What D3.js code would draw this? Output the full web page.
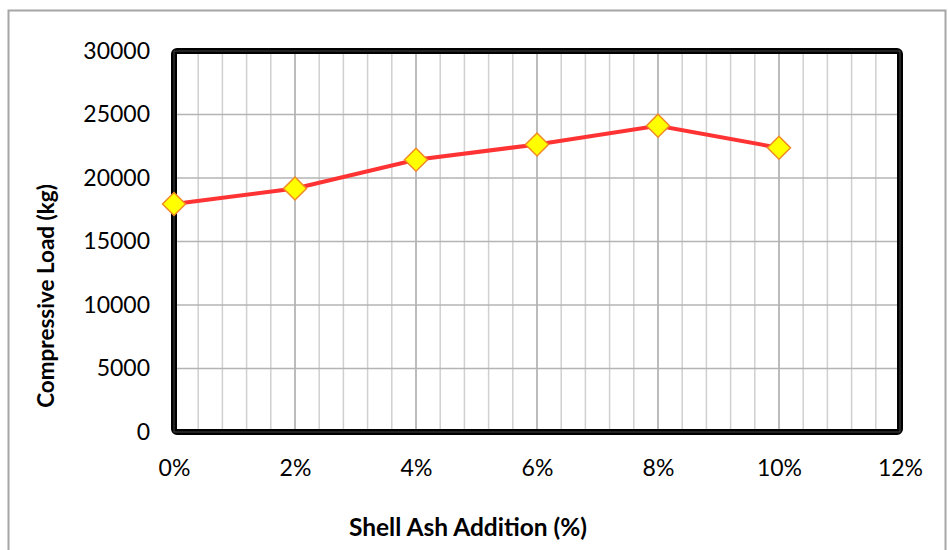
<!DOCTYPE html>
<html><head><meta charset="utf-8">
<script src="https://cdn.jsdelivr.net/npm/d3@7"></script>
<style>body{margin:0;background:#fff}svg{display:block}</style>
</head><body><svg id="c" width="948" height="550"></svg>
<script>
const categories = [0, 2, 4, 6, 8, 10];
const loadValues = [17950, 19170, 21440, 22640, 24120, 22380];
const xTicks = [0, 2, 4, 6, 8, 10, 12];
const yTicks = [0, 5000, 10000, 15000, 20000, 25000, 30000];
const xTitle = "Shell Ash Addition (%)";
const yTitle = "Compressive Load (kg)";

const svg = d3.select("#c");
const L = 174, R = 900, T = 51, B = 432;
const x = d3.scaleLinear().domain([0, 12]).range([L, R]);
const y = d3.scaleLinear().domain([0, 30000]).range([B, T]);
const font = "Lato, 'Open Sans', sans-serif";

// outer chart border
svg.append("rect").attr("x", 8.5).attr("y", 10.5).attr("width", 937).attr("height", 560)
  .attr("fill", "none").attr("stroke", "#a6a6a6").attr("stroke-width", 2);

// minor vertical gridlines
const minor = d3.range(0, 12.0001, 0.4).filter(v => Math.abs(v / 2 - Math.round(v / 2)) > 1e-6);
svg.append("g").selectAll("line").data(minor).join("line")
  .attr("x1", d => x(d)).attr("x2", d => x(d)).attr("y1", T).attr("y2", B)
  .attr("stroke", "#d0d0d0").attr("stroke-width", 1.5);
// major vertical gridlines
svg.append("g").selectAll("line").data(xTicks).join("line")
  .attr("x1", d => x(d)).attr("x2", d => x(d)).attr("y1", T).attr("y2", B)
  .attr("stroke", "#a6a6a6").attr("stroke-width", 1.5);
// horizontal gridlines
svg.append("g").selectAll("line").data(yTicks).join("line")
  .attr("x1", L).attr("x2", R).attr("y1", d => y(d)).attr("y2", d => y(d))
  .attr("stroke", "#b4b4b4").attr("stroke-width", 1.5);

// frame
svg.append("rect").attr("x", L).attr("y", T).attr("width", R - L).attr("height", B - T)
  .attr("rx", 3).attr("fill", "none").attr("stroke", "#000").attr("stroke-width", 6);
svg.append("rect").attr("x", L).attr("y", T).attr("width", R - L).attr("height", B - T)
  .attr("fill", "none").attr("stroke", "#555").attr("stroke-width", 0.8);

// axes labels via d3 axes
const yAxis = svg.append("g").attr("transform", `translate(${L},0)`)
  .call(d3.axisLeft(y).tickValues(yTicks).tickSize(0).tickPadding(24).tickFormat(d3.format("d")));
yAxis.select(".domain").remove();
yAxis.selectAll("text").attr("font-family", font).attr("font-size", 23).attr("fill", "#000");

const xAxis = svg.append("g").attr("transform", `translate(0,${B})`)
  .call(d3.axisBottom(x).tickValues(xTicks).tickSize(0).tickPadding(28).tickFormat(d => d + "%"));
xAxis.select(".domain").remove();
xAxis.selectAll("text").attr("font-family", font).attr("font-size", 23).attr("fill", "#000");

// titles
svg.append("text").attr("x", 468).attr("y", 536).attr("text-anchor", "middle")
  .attr("font-family", font).attr("font-weight", "bold").attr("font-size", 24.5).text(xTitle);
svg.append("text").attr("transform", "translate(54,296) rotate(-90)").attr("text-anchor", "middle")
  .attr("font-family", font).attr("font-weight", "bold").attr("font-size", 22.5).text(yTitle);

// series
const data = categories.map((c, i) => ({ c, v: loadValues[i] }));
svg.append("path").datum(data)
  .attr("d", d3.line().x(d => x(d.c)).y(d => y(d.v)))
  .attr("fill", "none").attr("stroke", "#ff3333").attr("stroke-width", 4);
svg.append("g").selectAll("path").data(data).join("path")
  .attr("transform", d => `translate(${x(d.c)},${y(d.v)})`)
  .attr("d", "M0,-11.5L11.5,0L0,11.5L-11.5,0Z")
  .attr("fill", "#ffff00").attr("stroke", "#f08a24").attr("stroke-width", 1.5);
</script></body></html>
